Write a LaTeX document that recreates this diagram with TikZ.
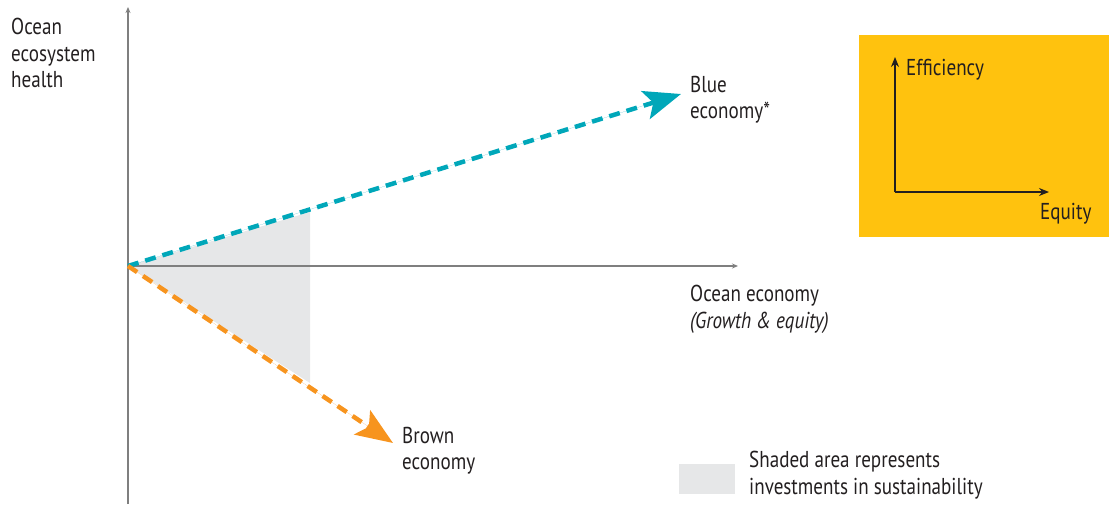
\documentclass[tikz,border=0pt]{standalone}
\usepackage{fontspec}
\setmainfont{PT Sans}[FakeStretch=0.83]
\usetikzlibrary{arrows.meta}
\definecolor{teal1}{HTML}{00A7B9}
\definecolor{orange1}{HTML}{F7941E}
\definecolor{yellow1}{HTML}{FFC20E}
\definecolor{shade1}{HTML}{E6E7E8}
\definecolor{axisgray}{HTML}{7F7F7F}
\definecolor{ink}{HTML}{231F20}
\tikzset{
  lbl/.style={font=\fontsize{23}{26.5}\selectfont, text=ink, align=left, inner sep=0pt, anchor=north west},
  axisline/.style={draw=axisgray, line width=1.3pt, -{Stealth[length=6pt,width=5pt]}},
  smallaxis/.style={draw=ink, line width=1.3pt, -{Stealth[length=10pt,width=8pt]}},
  econ/.style={line width=4.5pt, dash pattern=on 11pt off 7pt, -{Stealth[length=37pt,width=29pt,inset=8pt]}},
}
\begin{document}
\begin{tikzpicture}[x=1pt,y=-1pt]
\useasboundingbox (0,0) rectangle (1109,504);
% coordinates
\coordinate (O) at (128,266);
\coordinate (ytop) at (128,7);
\coordinate (ybot) at (128,504);
\coordinate (xend) at (738,266);
\coordinate (blueTip) at (681,94);
\coordinate (brownTip) at (393,443);
\coordinate (shA) at (310,212);
\coordinate (shB) at (310,383);
% shaded area
\fill[shade1] (O) -- (shA) -- (shB) -- cycle;
% axes
\draw[axisgray, line width=1.3pt] (ybot) -- (O);
\draw[axisline] (O) -- (ytop);
\draw[axisline] (O) -- (xend);
% economy vectors
\draw[econ, draw=teal1, fill=teal1] (O) -- (blueTip);
\draw[econ, draw=orange1, fill=orange1] (O) -- (brownTip);
% labels
\node[lbl] (ylab) at (11,18) {Ocean\\ecosystem\\health};
\node[lbl] (blue) at (690,76) {Blue\\economy*};
\node[lbl] (xlab) at (690,285) {Ocean economy\\\textit{(Growth \& equity)}};
\node[lbl] (brown) at (402,427) {Brown\\economy};
% inset box
\fill[yellow1] (859,35) rectangle (1109,237);
\coordinate (iO) at (895,192);
\coordinate (iTop) at (895,57);
\coordinate (iRight) at (1049,192);
\draw[smallaxis] (iO) -- (iTop);
\draw[smallaxis] (iO) -- (iRight);
\node[lbl] (eff) at (906,59) {Efficiency};
\node[lbl] (eq) at (1040,203) {Equity};
% legend
\fill[shade1] (679,464) rectangle (735,494);
\node[lbl] (leg) at (749,451) {Shaded area represents\\investments in sustainability};
\end{tikzpicture}
\end{document}
